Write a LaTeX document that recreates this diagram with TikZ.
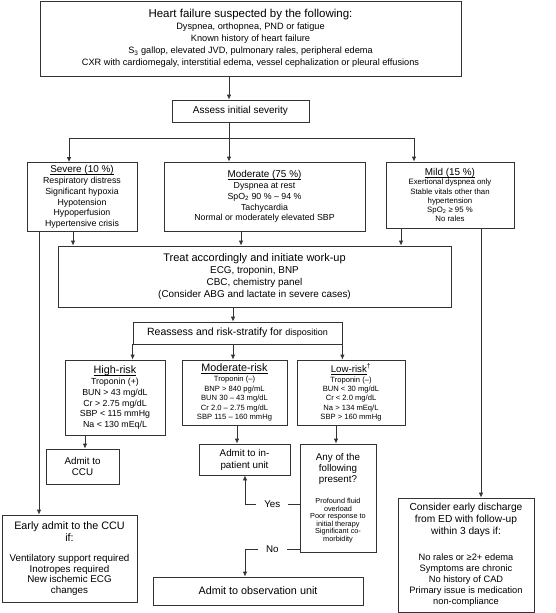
\documentclass[tikz,border=0pt]{standalone}
\usepackage{fontspec}
\setmainfont{Liberation Sans}
\usetikzlibrary{arrows.meta}
\newcommand{\fsz}[2]{\fontsize{#1}{#2}\selectfont\lineskiplimit=-50pt}
\newcommand{\uln}[1]{\setbox0\hbox{#1}\rlap{\rule[-0.2em]{\wd0}{0.055em}}\box0}

\begin{document}
\begin{tikzpicture}[x=1pt, y=-1pt, >={Latex[length=5pt,width=4.5pt]},
  box/.style={draw=black!80, line width=0.8pt, align=center, inner sep=1pt},
  conn/.style={draw=black!80, line width=0.8pt},
  lbl/.style={fill=white, inner xsep=8pt, inner ysep=1pt, font=\fsz{9.8}{11}}]
  \useasboundingbox (0,0) rectangle (555,613);
  % columns and rows used by the connectors
  \coordinate (cMain) at (229,0);
  \coordinate (cSev) at (69,0);
  \coordinate (cMild) at (414,0);
  \coordinate (cSevT) at (73,0);
  \coordinate (cModT) at (241,0);
  \coordinate (cMildT) at (401,0);
  \coordinate (cEarly) at (39,0);
  \coordinate (cDisc) at (481,0);
  \coordinate (cRe) at (233,0);
  \coordinate (cCcu) at (85,0);
  \coordinate (cInp) at (237,0);
  \coordinate (cAny) at (336,0);
  \coordinate (cLoop) at (245,0);
  \coordinate (yBus) at (0,138);
  \coordinate (yYes) at (0,504);
  \coordinate (yNo) at (0,549);
  % suspicion
  \node[box, minimum width=421, minimum height=75, font=\fsz{9.2}{12}] (hf) at (250.5,38.5)
    {{\fsz{11.5}{12}Heart failure suspected by the following:}\\
     Dyspnea, orthopnea, PND or fatigue\\
     Known history of heart failure\\
     S\textsubscript{3} gallop, elevated JVD, pulmonary rales, peripheral edema\\
     CXR with cardiomegaly, interstitial edema, vessel cephalization or pleural effusions};
  \node[box, minimum width=137, minimum height=22, font=\fsz{10}{12}] (assess) at (240.5,111)
    {Assess initial severity};
  % severity
  \node[box, minimum width=110, minimum height=69, font=\fsz{8.8}{10.6}] (severe) at (82,197)
    {{\fsz{9.9}{10.6}\uln{Severe (10 \%)}}\\[0.4pt]
     Respiratory distress\\Significant hypoxia\\Hypotension\\Hypoperfusion\\Hypertensive crisis};
  \node[box, minimum width=201, minimum height=69, font=\fsz{8.8}{10.8}] (moderate) at (264.5,196.5)
    {{\fsz{9.9}{10.8}\uln{Moderate (75 \%)}}\\[0.2pt]
     Dyspnea at rest\\SpO\textsubscript{2} 90 \% – 94 \%\\Tachycardia\\Normal or moderately elevated SBP};
  \node[box, minimum width=128, minimum height=66, font=\fsz{7.8}{9.2}] (mild) at (450,195)
    {{\fsz{9.9}{9.2}\uln{Mild (15 \%)}}\\[0.4pt]
     Exertional dyspnea only\\Stable vitals other than\\hypertension\\SpO\textsubscript{2} ≥ 95 \%\\No rales};
  % work-up
  \node[box, minimum width=393, minimum height=61, font=\fsz{9.9}{12}] (treat) at (254.5,276.5)
    {{\fsz{11}{12}Treat accordingly and initiate work-up}\\
     ECG, troponin, BNP\\CBC, chemistry panel\\(Consider ABG and lactate in severe cases)};
  \node[box, minimum width=209, minimum height=22, font=\fsz{10.5}{12}] (reassess) at (237.5,333)
    {Reassess and risk-stratify for {\fsz{9}{12}disposition}};
  % risk groups
  \node[box, minimum width=100, minimum height=75, font=\fsz{8.8}{10.6}] (high) at (115,397.5)
    {{\fsz{10.8}{10.6}\uln{High-risk}}\\[0.4pt]
     Troponin (+)\\BUN > 43 mg/dL\\Cr > 2.75 mg/dL\\SBP < 115 mmHg\\Na < 130 mEq/L};
  \node[box, minimum width=105, minimum height=65, font=\fsz{7.6}{9.4}] (modrisk) at (234.5,392.5)
    {{\fsz{10.8}{9.4}\uln{Moderate-risk}}\\[0.8pt]
     Troponin (–)\\BNP > 840 pg/mL\\BUN 30 – 43 mg/dL\\Cr 2.0 – 2.75 mg/dL\\SBP 115 – 160 mmHg};
  \node[box, minimum width=108, minimum height=65, font=\fsz{7.6}{9.4}] (low) at (351,392.5)
    {{\fsz{9.7}{9.4}\uln{Low-risk}\textsuperscript{\dag}}\\[0.6pt]
     Troponin (–)\\BUN < 30 mg/dL\\Cr < 2.0 mg/dL\\Na > 134 mEq/L\\SBP > 160 mmHg};
  % dispositions
  \node[box, minimum width=73, minimum height=35, font=\fsz{9.8}{11.5}] (ccu) at (82.5,466.5)
    {Admit to\\CCU};
  \node[box, minimum width=91, minimum height=31, font=\fsz{9.8}{12}] (inpat) at (244.5,459.5)
    {Admit to in-\\patient unit};
  \node[box, minimum width=76, minimum height=108, font=\fsz{7.3}{7.5}] (any) at (338,498)
    {{\fsz{9.8}{7.5}Any of the}\\[3.5pt]{\fsz{9.8}{7.5}following}\\[3.5pt]{\fsz{9.8}{7.5}present?}\\[13.5pt]
     Profound fluid\\overload\\Poor response to\\initial therapy\\Significant co-\\morbidity};
  \node[box, minimum width=210, minimum height=28, font=\fsz{10.8}{12}] (obs) at (258,591)
    {Admit to observation unit};
  \node[box, minimum width=135, minimum height=87, font=\fsz{9.8}{10.5}] (early) at (69.5,558.5)
    {{\fsz{10.8}{10.5}Early admit to the CCU}\\[1.5pt]{\fsz{10.8}{10.5}if:}\\[9.5pt]
     Ventilatory support required\\Inotropes required\\New ischemic ECG\\changes};
  \node[box, minimum width=136, minimum height=114, font=\fsz{9.3}{11}] (discharge) at (466,555)
    {{\fsz{10.2}{11}Consider early discharge}\\[1pt]{\fsz{10.2}{11}from ED with follow-up}\\[1pt]
     {\fsz{10.2}{11}within 3 days if:}\\[15pt]
     No rales or ≥2+ edema\\Symptoms are chronic\\No history of CAD\\Primary issue is medication\\non-compliance};
  % connectors
  \draw[conn,->] (hf.south -| cMain) -- (assess.north -| cMain);
  \draw[conn] (assess.south -| cMain) -- (yBus -| cMain);
  \draw[conn] (yBus -| cSev) -- (yBus -| cMild);
  \draw[conn,->] (yBus -| cSev) -- (severe.north -| cSev);
  \draw[conn,->] (yBus -| cMain) -- (moderate.north -| cMain);
  \draw[conn,->] (yBus -| cMild) -- (mild.north -| cMild);
  \draw[conn,->] (severe.south -| cSevT) -- (treat.north -| cSevT);
  \draw[conn,->] (moderate.south -| cModT) -- (treat.north -| cModT);
  \draw[conn,->] (mild.south -| cMildT) -- (treat.north -| cMildT);
  \draw[conn,->] (severe.south -| cEarly) -- (early.north -| cEarly);
  \draw[conn,->] (mild.south -| cDisc) -- (discharge.north -| cDisc);
  \draw[conn,->] (treat.south -| cRe) -- (reassess.north -| cRe);
  \draw[conn,->] (reassess.south west) -- (reassess.south west |- high.north);
  \draw[conn,->] (reassess.south -| cRe) -- (modrisk.north -| cRe);
  \draw[conn,->] (reassess.south east) -- (reassess.south east |- low.north);
  \draw[conn,->] (high.south -| cCcu) -- (ccu.north -| cCcu);
  \draw[conn,->] (modrisk.south -| cInp) -- (inpat.north -| cInp);
  \draw[conn,->] (low.south -| cAny) -- (any.north -| cAny);
  \draw[conn,->] (any.west |- yYes) -- node[lbl] (yes) {Yes} (cLoop |- yYes) -- (inpat.south -| cLoop);
  \draw[conn,->] (any.west |- yNo) -- node[lbl] (no) {No} (cLoop |- yNo) -- (obs.north -| cLoop);
\end{tikzpicture}
\end{document}
